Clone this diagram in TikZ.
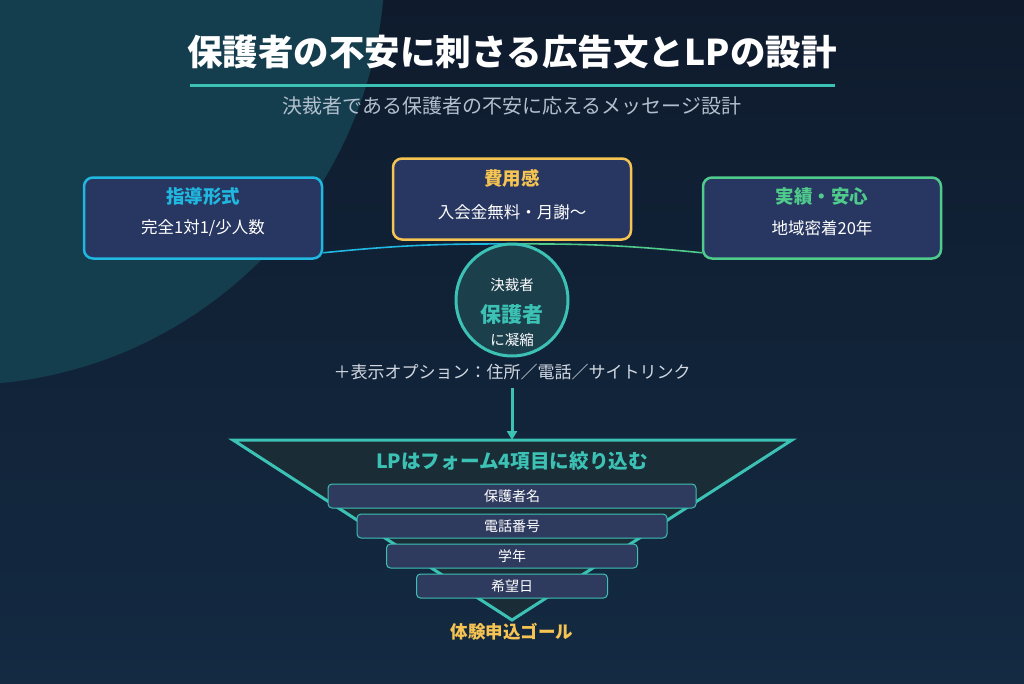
\documentclass[tikz,border=0pt]{standalone}
\usepackage{fontspec}
\setmainfont{Noto Sans CJK JP}
\usetikzlibrary{arrows.meta,positioning,shapes}

\definecolor{bgtop}{HTML}{0F1B2D}
\definecolor{bgbot}{HTML}{132A42}
\definecolor{blob}{HTML}{143E4E}
\definecolor{teal1}{HTML}{3CC2B4}
\definecolor{subgray}{HTML}{B2BFCE}
\definecolor{cyan1}{HTML}{20B8E0}
\definecolor{gold1}{HTML}{F5C452}
\definecolor{green1}{HTML}{4FCB8C}
\definecolor{cardbg}{HTML}{283761}
\definecolor{rowbg}{HTML}{2F3A5F}
\definecolor{hubbg}{HTML}{1C3F4C}
\definecolor{funbg}{HTML}{1A2C36}

\tikzset{
  card/.style={draw,rounded corners=9pt,line width=2.5pt,fill=cardbg,minimum width=238pt,minimum height=81pt},
  cardtitle/.style={font=\fontsize{18.5}{22}\selectfont\bfseries},
  cardtext/.style={text=white,font=\fontsize{16.5}{19}\selectfont},
  link/.style={line width=1.6pt},
  row/.style={draw=teal1,line width=1pt,fill=rowbg,rounded corners=4pt,minimum height=24pt,text=white,font=\fontsize{14}{16}\selectfont,inner sep=0pt}
}

\begin{document}
\begin{tikzpicture}[x=1pt,y=-1pt]
\useasboundingbox (0,0) rectangle (1024,683);
\shade[top color=bgtop,bottom color=bgbot] (0,0) rectangle (1024,683);
\begin{scope}
\clip (0,0) rectangle (1024,683);
\fill[blob] (-40,-40) circle (425);
\end{scope}

% title
\node[text=white,font=\fontsize{35.5}{40}\selectfont\bfseries] (title) at (512,52) {保護者の不安に刺さる広告文とLPの設計};
\draw[teal1,line width=3pt] (190,85) -- (835,85);
\node[text=subgray,font=\fontsize{20}{24}\selectfont] (sub) at (512,106) {決裁者である保護者の不安に応えるメッセージ設計};

% three cards
\node[card,draw=cyan1] (b1) at (203,218) {};
\node[card,draw=gold1] (b2) at (512,199) {};
\node[card,draw=green1] (b3) at (822,218) {};
\coordinate (hubtop) at (512,244);
\draw[link,cyan1] ([yshift=7pt]b1.south east) to[bend left=3] (hubtop);
\draw[link,green1] (hubtop) to[bend left=3] ([yshift=7pt]b3.south west);
\node[cardtitle,text=cyan1] (b1t) at (203,197) {指導形式};
\node[cardtext] (b1s) at (203,228) {完全1対1/少人数};
\node[cardtitle,text=gold1] (b2t) at (512,178) {費用感};
\node[cardtext] (b2s) at (512,212) {入会金無料・月謝〜};
\node[cardtitle,text=green1] (b3t) at (822,197) {実績・安心};
\node[cardtext] (b3s) at (822,228) {地域密着20年};

% decision maker
\node[draw=teal1,fill=hubbg,circle,line width=3pt,minimum size=112pt] (hub) at (512,300) {};
\node[text=white,font=\fontsize{14.5}{17}\selectfont] (h1) at (512,285) {決裁者};
\node[text=teal1,font=\fontsize{21}{24}\selectfont\bfseries] (h2) at (512,315) {保護者};
\node[text=white,font=\fontsize{14.5}{17}\selectfont] (h3) at (512,340) {に凝縮};

\node[text=subgray!60!white,font=\fontsize{17}{20}\selectfont] (opt) at (512,372) {＋表示オプション：住所／電話／サイトリンク};

% funnel
\draw[teal1,line width=3pt,fill=funbg,line join=miter] (233,440) -- (792,440) -- (512,620) -- cycle;
\coordinate (ftop) at (512,440);
\draw[-{Triangle[length=9pt,width=10pt]},teal1,line width=3pt] (opt.south) ++(0,5) -- (ftop);
\node[text=teal1,font=\fontsize{19.6}{23}\selectfont\bfseries] (lp) at (512,461) {LPはフォーム4項目に絞り込む};
\foreach \t/\y/\w [count=\i] in {保護者名/496/368,電話番号/526/310,学年/556/251,希望日/586/191}
  \node[row,minimum width=\w pt] (r\i) at (512,\y) {\t};
\node[text=gold1,font=\fontsize{17.5}{20}\selectfont\bfseries] (goal) at (512,632) {体験申込ゴール};
\end{tikzpicture}
\end{document}
